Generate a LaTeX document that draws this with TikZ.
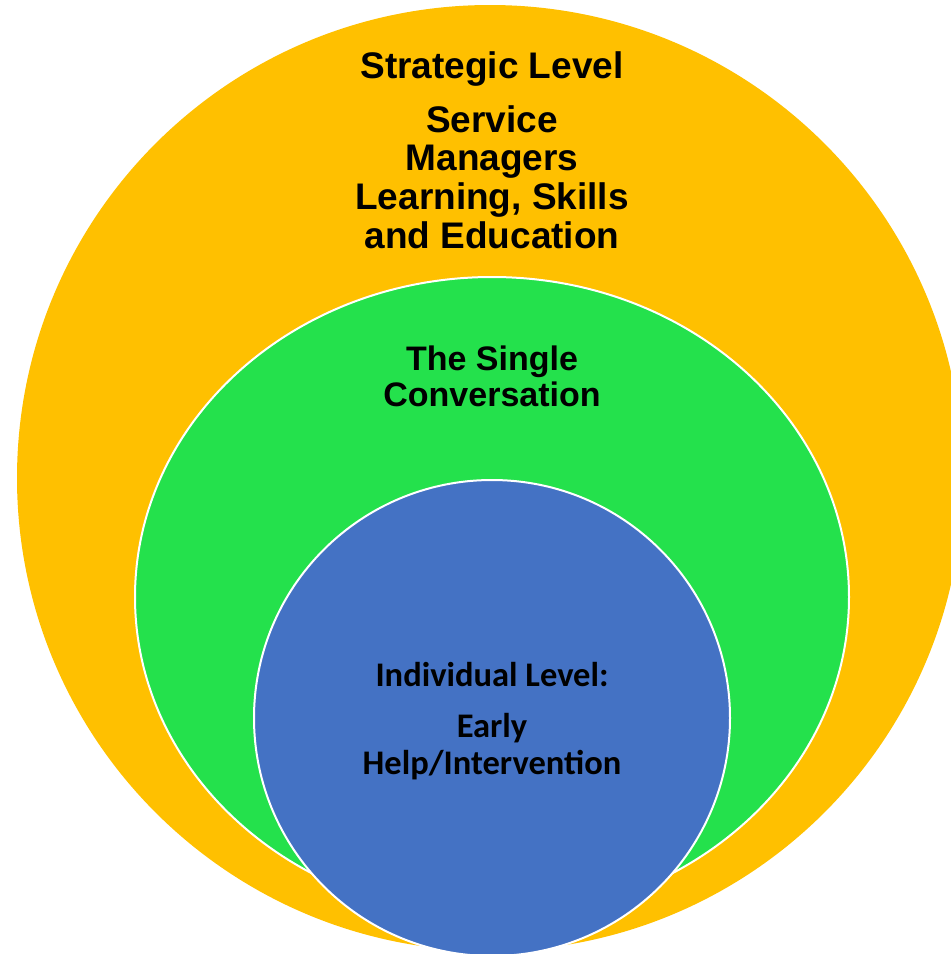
\documentclass[tikz,border=0pt]{standalone}
\usepackage{fontspec}
\setmainfont{Liberation Sans}
\newfontfamily\calibri{Carlito}
\definecolor{strategic}{HTML}{FFC000}
\definecolor{single}{RGB}{36,225,76}
\definecolor{individual}{HTML}{4472C4}
\begin{document}
\begin{tikzpicture}[x=1pt, y=-1pt,
  ring/.style={draw=white, line width=2pt},
  outertext/.style={font=\bfseries\fontsize{37}{38.7}\selectfont, align=center},
  midtext/.style={font=\bfseries\fontsize{34}{36}\selectfont, align=center},
  innertext/.style={font=\calibri\bfseries\fontsize{34.5}{37}\selectfont, align=center}]
  \useasboundingbox (0,0) rectangle (951,954);
  \clip (0,0) rectangle (951,954);
  % the three levels
  \fill[strategic] (490,478) circle [radius=473pt];
  \filldraw[single, ring] (492,597) ellipse [x radius=357pt, y radius=320pt];
  \filldraw[individual, ring] (492,718) circle [radius=238pt];
  % labels
  \node[outertext] (strategic) at (492,69) {Strategic Level};
  \node[outertext] (managers) at (492,177) {Service\\Managers\\Learning, Skills\\and Education};
  \node[midtext] (conversation) at (492,376) {The Single\\Conversation};
  \node[innertext] (individual) at (492,675) {Individual Level:};
  \node[innertext] (early) at (492,747) {Early\\Help/Intervention};
\end{tikzpicture}
\end{document}
